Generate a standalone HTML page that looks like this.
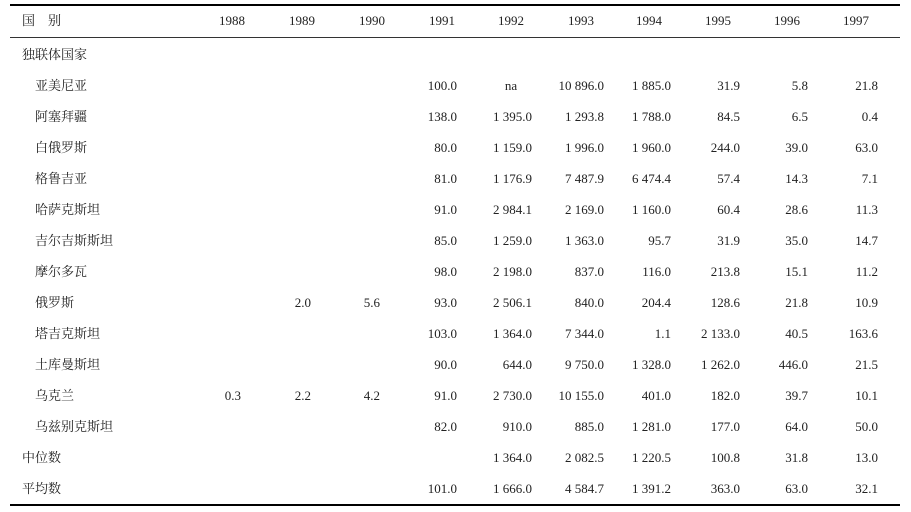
<!DOCTYPE html>
<html><head><meta charset="utf-8"><style>
body{margin:0;background:#fff;width:911px;height:512px;position:relative;overflow:hidden;
font-family:"Liberation Serif","Noto Serif CJK SC",serif;font-size:13px;color:#222;}
.r{position:absolute;height:16px;line-height:16px;white-space:nowrap}
.v{text-align:right;width:80px}
.h{text-align:center;width:60px}
.line{position:absolute;left:10px;width:890px;background:#000}
</style></head><body>
<div class="line" style="top:4px;height:2px"></div>
<div class="line" style="top:37px;height:1px;background:#333"></div>
<div class="line" style="top:504px;height:2px"></div>
<div id="c"></div>
<script>
var c=document.getElementById('c'),h='';
var hc=[232,302,372,442,511,581,649,718,787,856];
var re=[241,311,380,457,532,604,671,740,808,878];
var yrs=['1988','1989','1990','1991','1992','1993','1994','1995','1996','1997'];
function at(x,y,t,cls){h+='<div class="r '+cls+'" style="left:'+x+'px;top:'+(y-8)+'px">'+t+'</div>';}
at(22,21,'国　别','');
yrs.forEach(function(t,i){at(hc[i]-30,21,t,'h');});
var rows=[
['独联体国家',0,[]],
['亚美尼亚',1,['','','','100.0','na','10 896.0','1 885.0','31.9','5.8','21.8']],
['阿塞拜疆',1,['','','','138.0','1 395.0','1 293.8','1 788.0','84.5','6.5','0.4']],
['白俄罗斯',1,['','','','80.0','1 159.0','1 996.0','1 960.0','244.0','39.0','63.0']],
['格鲁吉亚',1,['','','','81.0','1 176.9','7 487.9','6 474.4','57.4','14.3','7.1']],
['哈萨克斯坦',1,['','','','91.0','2 984.1','2 169.0','1 160.0','60.4','28.6','11.3']],
['吉尔吉斯斯坦',1,['','','','85.0','1 259.0','1 363.0','95.7','31.9','35.0','14.7']],
['摩尔多瓦',1,['','','','98.0','2 198.0','837.0','116.0','213.8','15.1','11.2']],
['俄罗斯',1,['','2.0','5.6','93.0','2 506.1','840.0','204.4','128.6','21.8','10.9']],
['塔吉克斯坦',1,['','','','103.0','1 364.0','7 344.0','1.1','2 133.0','40.5','163.6']],
['土库曼斯坦',1,['','','','90.0','644.0','9 750.0','1 328.0','1 262.0','446.0','21.5']],
['乌克兰',1,['0.3','2.2','4.2','91.0','2 730.0','10 155.0','401.0','182.0','39.7','10.1']],
['乌兹别克斯坦',1,['','','','82.0','910.0','885.0','1 281.0','177.0','64.0','50.0']],
['中位数',0,['','','','','1 364.0','2 082.5','1 220.5','100.8','31.8','13.0']],
['平均数',0,['','','','101.0','1 666.0','4 584.7','1 391.2','363.0','63.0','32.1']]];
rows.forEach(function(r,k){var y=55+31*k;at(r[1]?35:22,y,r[0],'');
r[2].forEach(function(v,i){if(!v)return;if(v=='na')at(hc[i]-30,y,v,'h');else at(re[i]-80,y,v,'v');});});
c.innerHTML=h;
</script>
</body></html>
